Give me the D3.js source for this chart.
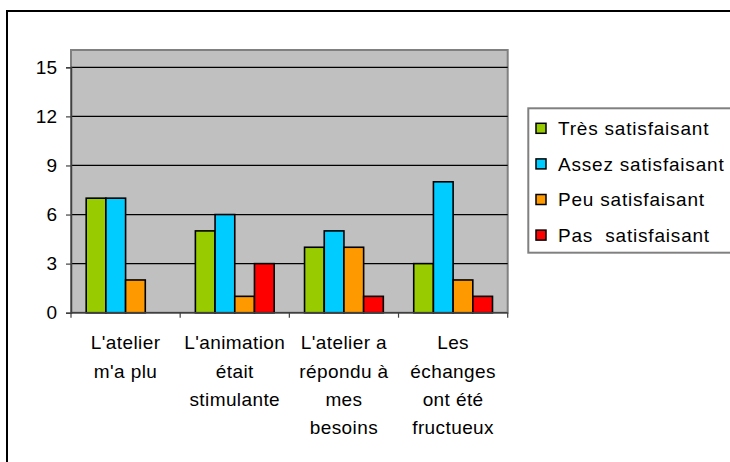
<!DOCTYPE html>
<html><head><meta charset="utf-8">
<script src="https://cdn.jsdelivr.net/npm/d3@7"></script>
<style>
html,body{margin:0;padding:0;background:#fff;}
text{font-family:"Liberation Sans",Arial,sans-serif;fill:#000;}
</style></head>
<body><svg id="c" width="730" height="462"></svg>
<script>
const categories = [
  ["L'atelier","m'a plu"],
  ["L'animation","était","stimulante"],
  ["L'atelier a","répondu à","mes","besoins"],
  ["Les","échanges","ont été","fructueux"]
];
const seriesNames = ["Très satisfaisant","Assez satisfaisant","Peu satisfaisant","Pas  satisfaisant"];
const tresValues  = [7,5,4,3];
const assezValues = [7,6,5,8];
const peuValues   = [2,1,4,2];
const pasValues   = [0,3,1,1];
const yTicks = [0,3,6,9,12,15];
const colors = ["#99CC00","#00CCFF","#FF9900","#FF0000"];

const seriesValues = [tresValues, assezValues, peuValues, pasValues];
const svg = d3.select("#c");
const fs = 19;

// outer frame
svg.append("rect").attr("x",7).attr("y",11).attr("width",740).attr("height",470)
  .attr("fill","#fff").attr("stroke","#000").attr("stroke-width",2);

const L = 71, R = 507.7, T = 50, B = 312.7;
const y = d3.scaleLinear().domain([0,15]).range([B, 67.3]);
const catIdx = categories.map((d,i)=>i);
const x0 = d3.scaleBand().domain(catIdx).range([L,R]).paddingInner(0).paddingOuter(0);
const pad = 15.2;
const x1 = d3.scaleBand().domain(d3.range(seriesNames.length)).range([pad, x0.bandwidth()-pad]);

// plot area
svg.append("rect").attr("x",L).attr("y",T).attr("width",R-L).attr("height",B-T)
  .attr("fill","#C0C0C0").attr("stroke","#808080").attr("stroke-width",2);

// gridlines
svg.append("g").selectAll("line").data(yTicks.filter(d=>d>0)).join("line")
  .attr("x1",L).attr("x2",R).attr("y1",d=>y(d)).attr("y2",d=>y(d))
  .attr("stroke","#000").attr("stroke-width",1.2);

// bars
const rows = [];
seriesValues.forEach((vals,s)=>vals.forEach((v,c)=>{ if(v>0) rows.push({s,c,v}); }));
svg.append("g").selectAll("rect").data(rows).join("rect")
  .attr("x",d=>x0(d.c)+x1(d.s))
  .attr("y",d=>y(d.v))
  .attr("width",x1.bandwidth())
  .attr("height",d=>y(0)-y(d.v))
  .attr("fill",d=>colors[d.s])
  .attr("stroke","#000").attr("stroke-width",1.6);

// y axis
const yAxis = d3.axisLeft(y).tickValues(yTicks).tickSize(5).tickPadding(9).tickFormat(d3.format("d"));
const gy = svg.append("g").attr("transform",`translate(${L},0)`).call(yAxis);
gy.select(".domain").attr("stroke","#404040").attr("stroke-width",1.5);
gy.selectAll(".tick line").attr("stroke","#404040").attr("stroke-width",1.2);
gy.selectAll(".tick text").attr("font-size",fs).attr("font-family","Liberation Sans, Arial, sans-serif").attr("fill","#000");

// x axis
const xb = d3.scaleLinear().domain([0,categories.length]).range([L,R]);
const gx = svg.append("g");
gx.append("line").attr("x1",L).attr("x2",R).attr("y1",B).attr("y2",B).attr("stroke","#404040").attr("stroke-width",1.5);
gx.selectAll("line.t").data(d3.range(categories.length+1)).join("line").attr("class","t")
  .attr("x1",d=>xb(d)).attr("x2",d=>xb(d)).attr("y1",B).attr("y2",B+5)
  .attr("stroke","#404040").attr("stroke-width",1.2);

categories.forEach((lines,i)=>{
  const t = svg.append("text").attr("text-anchor","middle").attr("font-size",fs)
    .attr("letter-spacing",0.4)
    .attr("x",x0(i)+x0.bandwidth()/2);
  lines.forEach((ln,j)=>{
    t.append("tspan").attr("x",x0(i)+x0.bandwidth()/2).attr("y",349.3+j*28.3).text(ln);
  });
});

// legend
svg.append("rect").attr("x",528.3).attr("y",108.3).attr("width",240).attr("height",144.4)
  .attr("fill","#fff").attr("stroke","#808080").attr("stroke-width",2);
const lg = svg.append("g").selectAll("g").data(seriesNames).join("g")
  .attr("transform",(d,i)=>`translate(536,${128.3+i*35.6})`);
lg.append("rect").attr("x",0).attr("y",-5).attr("width",10).attr("height",10)
  .attr("fill",(d,i)=>colors[i]).attr("stroke","#000").attr("stroke-width",1.5);
lg.append("text").attr("x",22).attr("y",0).attr("dy","0.36em").attr("font-size",fs)
  .attr("letter-spacing",0.8)
  .style("white-space","pre").attr("xml:space","preserve").text(d=>d);
</script>
</body></html>
